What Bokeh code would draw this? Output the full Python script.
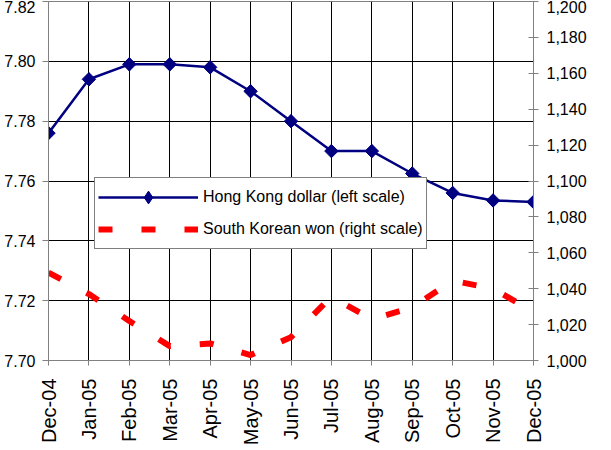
from math import pi
from bokeh.plotting import figure
from bokeh.models import (Range1d, LinearAxis, FixedTicker, NumeralTickFormatter,
                          Legend, LegendItem)
from bokeh.embed import file_html
from bokeh.resources import INLINE

months = ["Dec-04", "Jan-05", "Feb-05", "Mar-05", "Apr-05", "May-05", "Jun-05",
          "Jul-05", "Aug-05", "Sep-05", "Oct-05", "Nov-05", "Dec-05"]
hkd = [7.776, 7.794, 7.799, 7.799, 7.798, 7.790, 7.780, 7.770, 7.770, 7.7625,
       7.756, 7.7535, 7.753]
krw = [1049, 1037, 1022, 1008, 1009.5, 1003, 1013, 1035.5, 1023, 1029.5,
       1044.5, 1040, 1027]
left_ticks = [7.70, 7.72, 7.74, 7.76, 7.78, 7.80, 7.82]
right_ticks = list(range(1000, 1201, 20))
hk_label = "Hong Kong dollar (left scale)"
kr_label = "South Korean won (right scale)"

x = list(range(len(months)))
FONT = "Liberation Sans"

p = figure(frame_width=485, frame_height=359,
           x_range=Range1d(0, len(months) - 1),
           y_range=Range1d(left_ticks[0], left_ticks[-1]),
           output_backend="svg", toolbar_location=None,
           min_border_top=1, min_border_left=48, min_border_right=0, min_border_bottom=0)
p.background_fill_color = "white"
p.border_fill_color = "white"
p.outline_line_color = "#808080"

p.extra_y_ranges = {"krw": Range1d(right_ticks[0], right_ticks[-1])}

# grids
p.xgrid.ticker = FixedTicker(ticks=x)
p.ygrid.ticker = FixedTicker(ticks=left_ticks)
for g in (p.xgrid, p.ygrid):
    g.grid_line_color = "black"
    g.grid_line_width = 1

# x axis
xa = p.xaxis[0]
xa.ticker = FixedTicker(ticks=x)
xa.major_label_overrides = {i: m for i, m in zip(x, months)}
xa.major_label_orientation = pi / 2
xa.major_label_text_font = FONT
xa.major_label_text_font_size = "20px"
xa.major_label_text_color = "black"
xa.major_tick_out = 5
xa.major_tick_in = 0
xa.minor_tick_line_color = None
xa.axis_line_color = "#808080"
xa.major_tick_line_color = "#808080"
xa.major_label_standoff = 13

# left axis
ya = p.yaxis[0]
ya.ticker = FixedTicker(ticks=left_ticks)
ya.formatter = NumeralTickFormatter(format="0.00")
ya.major_label_text_font = FONT
ya.major_label_text_font_size = "16px"
ya.major_label_text_color = "black"
ya.major_tick_out = 6
ya.major_tick_in = 0
ya.minor_tick_line_color = None
ya.axis_line_color = "#808080"
ya.major_tick_line_color = "#808080"
ya.major_label_standoff = 7

# right axis
ra = LinearAxis(y_range_name="krw", ticker=FixedTicker(ticks=right_ticks),
                formatter=NumeralTickFormatter(format="0,0"))
ra.major_label_text_font = FONT
ra.major_label_text_font_size = "16px"
ra.major_label_text_color = "black"
ra.major_tick_out = 5
ra.major_tick_in = 5
ra.minor_tick_line_color = None
ra.axis_line_color = "#808080"
ra.major_tick_line_color = "#808080"
ra.major_label_standoff = 8
p.add_layout(ra, "right")

# series
kr_line = p.line(x, krw, y_range_name="krw", line_color="#FF0000", line_width=6,
                 line_dash="14 29")
hk_line = p.line(x, hkd, line_color="#000080", line_width=2.5)
# narrow diamond (used for the legend key), covered by the rotated squares
hk_key = p.scatter(x, hkd, marker="diamond", size=13,
                   fill_color="#000080", line_color="#000080")
hk_pts = p.scatter(x, hkd, marker="square", angle=pi / 4, size=9.5,
                   fill_color="#000080", line_color="#000080")

legend = Legend(items=[LegendItem(label=hk_label, renderers=[hk_line, hk_key]),
                       LegendItem(label=kr_label, renderers=[kr_line])],
                location=(46, 111))
legend.label_text_font = FONT
legend.label_text_font_size = "16px"
legend.label_text_color = "black"
legend.padding = 3
legend.margin = 0
legend.spacing = 0
legend.glyph_width = 100
legend.glyph_height = 32
legend.label_height = 32
legend.label_standoff = 5
legend.border_line_color = "black"
legend.border_line_width = 1
legend.background_fill_color = "white"
legend.background_fill_alpha = 1.0
p.add_layout(legend)

open("out.html", "w").write(file_html(p, INLINE))
